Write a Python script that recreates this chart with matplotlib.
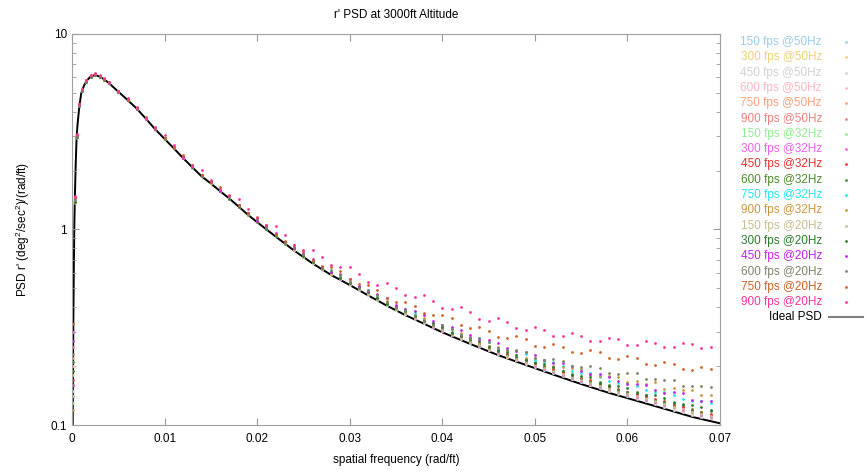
import numpy as np
import matplotlib
matplotlib.use('Agg')
import matplotlib.pyplot as plt
from matplotlib.lines import Line2D

plt.rcParams['font.family'] = ['Liberation Sans', 'DejaVu Sans']
plt.rcParams['mathtext.fontset'] = 'custom'
plt.rcParams['mathtext.rm'] = 'Liberation Sans'
plt.rcParams['mathtext.it'] = 'Liberation Sans'

# spatial frequency (rad/ft) of the sampled points
freq = [0.0001, 0.0003, 0.0005, 0.0008, 0.0011, 0.0015, 0.002, 0.0025, 0.003, 0.0035, 0.004,
        0.005, 0.007, 0.009, 0.011, 0.013, 0.015, 0.017, 0.019, 0.021, 0.023,
        0.025, 0.027, 0.029, 0.031, 0.033, 0.035, 0.037, 0.039, 0.041, 0.043,
        0.045, 0.047, 0.049, 0.051, 0.053, 0.055, 0.057, 0.059, 0.061, 0.063,
        0.065, 0.067, 0.069]
freq_mid = [0.006, 0.008, 0.010, 0.012, 0.014, 0.016, 0.018, 0.020, 0.022, 0.024,
            0.026, 0.028, 0.030, 0.032, 0.034, 0.036, 0.038, 0.040, 0.042, 0.044,
            0.046, 0.048, 0.050, 0.052, 0.054, 0.056, 0.058, 0.060, 0.062, 0.064,
            0.066, 0.068]

psd_150_50 = [0.14, 1.42, 2.95, 4.35, 5.1, 5.75, 6.0, 6.2, 6.08, 5.82, 5.62,
              5.1, 4.13, 3.27, 2.61, 2.07, 1.73, 1.45, 1.2, 1.0, 0.845, 0.725, 0.624, 0.56, 0.492, 0.438, 0.388,
              0.351, 0.316, 0.287, 0.264, 0.242, 0.222, 0.207, 0.192, 0.178, 0.166, 0.154, 0.145, 0.137, 0.128,
              0.12, 0.113, 0.108]
psd_300_50 = [0.18, 1.38, 3.0, 4.28, 5.18, 5.68, 6.08, 6.15, 6.02, 5.88, 5.58,
              5.05, 4.17, 3.24, 2.62, 2.09, 1.72, 1.45, 1.2, 1.01, 0.846, 0.724, 0.626, 0.558, 0.494, 0.437, 0.39,
              0.352, 0.317, 0.289, 0.265, 0.243, 0.224, 0.208, 0.193, 0.18, 0.167, 0.156, 0.146, 0.138, 0.129,
              0.122, 0.114, 0.109]
psd_450_50 = [0.15, 1.41, 2.97, 4.31, 5.13, 5.72, 6.06, 6.18, 6.04, 5.84, 5.61,
              5.08, 4.14, 3.26, 2.6, 2.08, 1.73, 1.44, 1.19, 1.0, 0.842, 0.723, 0.623, 0.557, 0.491, 0.436, 0.387,
              0.35, 0.316, 0.287, 0.263, 0.241, 0.222, 0.206, 0.191, 0.178, 0.165, 0.154, 0.144, 0.136, 0.128,
              0.12, 0.113, 0.108]
psd_600_50 = [0.2, 1.43, 3.02, 4.33, 5.16, 5.7, 6.07, 6.22, 6.05, 5.86, 5.63,
              5.1, 4.16, 3.27, 2.61, 2.09, 1.73, 1.45, 1.2, 1.01, 0.848, 0.727, 0.627, 0.56, 0.494, 0.44, 0.39,
              0.352, 0.318, 0.289, 0.265, 0.243, 0.224, 0.208, 0.193, 0.18, 0.167, 0.156, 0.146, 0.138, 0.13,
              0.122, 0.115, 0.109]
psd_750_50 = [0.22, 1.37, 2.99, 4.29, 5.14, 5.74, 6.03, 6.19, 6.09, 5.87, 5.6,
              5.09, 4.18, 3.26, 2.63, 2.1, 1.74, 1.46, 1.21, 1.01, 0.85, 0.728, 0.628, 0.562, 0.496, 0.441, 0.392,
              0.354, 0.32, 0.291, 0.267, 0.245, 0.226, 0.21, 0.195, 0.182, 0.169, 0.158, 0.148, 0.139, 0.131,
              0.123, 0.116, 0.11]
psd_900_50 = [0.25, 1.44, 3.03, 4.34, 5.17, 5.76, 6.1, 6.21, 6.07, 5.89, 5.64,
              5.11, 4.18, 3.28, 2.63, 2.1, 1.75, 1.46, 1.21, 1.02, 0.855, 0.733, 0.633, 0.566, 0.5, 0.445, 0.396,
              0.358, 0.324, 0.295, 0.27, 0.248, 0.23, 0.213, 0.198, 0.185, 0.172, 0.161, 0.151, 0.142, 0.134,
              0.126, 0.118, 0.113]
psd_150_32 = [0.13, 1.39, 2.96, 4.3, 5.15, 5.71, 6.04, 6.16, 6.06, 5.85, 5.59,
              5.08, 4.16, 3.25, 2.62, 2.09, 1.73, 1.45, 1.2, 1.01, 0.847, 0.726, 0.626, 0.56, 0.495, 0.44, 0.391,
              0.353, 0.319, 0.29, 0.266, 0.244, 0.225, 0.209, 0.195, 0.181, 0.168, 0.158, 0.147, 0.139, 0.131,
              0.123, 0.116, 0.11]
psd_300_32 = [0.3, 1.45, 3.01, 4.36, 5.2, 5.78, 6.12, 6.25, 6.1, 5.9, 5.65,
              5.12, 4.19, 3.28, 2.62, 2.1, 1.74, 1.46, 1.21, 1.01, 0.85, 0.728, 0.627, 0.561, 0.495, 0.44, 0.391,
              0.352, 0.319, 0.29, 0.266, 0.244, 0.225, 0.209, 0.194, 0.181, 0.168, 0.157, 0.147, 0.139, 0.131,
              0.123, 0.116, 0.11]
psd_450_32 = [0.17, 1.4, 2.99, 4.32, 5.17, 5.73, 6.09, 6.2, 6.08, 5.87, 5.62,
              5.09, 4.17, 3.27, 2.63, 2.1, 1.74, 1.46, 1.21, 1.02, 0.856, 0.735, 0.634, 0.568, 0.502, 0.447, 0.398,
              0.36, 0.326, 0.296, 0.272, 0.25, 0.231, 0.214, 0.2, 0.187, 0.174, 0.163, 0.152, 0.144, 0.136,
              0.127, 0.12, 0.114]
psd_600_32 = [0.21, 1.42, 3.0, 4.33, 5.16, 5.72, 6.07, 6.18, 6.06, 5.86, 5.62,
              5.09, 4.14, 3.27, 2.6, 2.1, 1.72, 1.46, 1.19, 1.02, 0.845, 0.736, 0.628, 0.57, 0.497, 0.45, 0.394,
              0.362, 0.322, 0.299, 0.27, 0.253, 0.229, 0.218, 0.198, 0.19, 0.172, 0.165, 0.151, 0.147, 0.135,
              0.131, 0.121, 0.118]
psd_750_32 = [0.16, 1.41, 2.98, 4.31, 5.16, 5.73, 6.08, 6.19, 6.07, 5.86, 5.61,
              5.1, 4.15, 3.27, 2.61, 2.11, 1.74, 1.47, 1.21, 1.03, 0.858, 0.745, 0.64, 0.582, 0.509, 0.46, 0.405,
              0.373, 0.333, 0.31, 0.281, 0.265, 0.241, 0.23, 0.21, 0.201, 0.185, 0.177, 0.164, 0.159, 0.148,
              0.143, 0.133, 0.13]
psd_900_32 = [0.12, 1.38, 2.97, 4.31, 5.15, 5.72, 6.06, 6.2, 6.06, 5.86, 5.62,
              5.07, 4.19, 3.26, 2.64, 2.09, 1.75, 1.45, 1.22, 1.0, 0.86, 0.73, 0.64, 0.566, 0.509, 0.446, 0.404,
              0.357, 0.33, 0.297, 0.28, 0.253, 0.241, 0.221, 0.214, 0.197, 0.193, 0.179, 0.177, 0.168, 0.165,
              0.154, 0.151, 0.143]
psd_150_20 = [0.14, 1.4, 2.99, 4.3, 5.15, 5.7, 6.06, 6.18, 6.05, 5.85, 5.61,
              5.08, 4.15, 3.26, 2.61, 2.09, 1.73, 1.45, 1.2, 1.01, 0.848, 0.727, 0.627, 0.562, 0.496, 0.441, 0.392,
              0.354, 0.32, 0.291, 0.267, 0.245, 0.226, 0.21, 0.195, 0.182, 0.169, 0.158, 0.148, 0.14, 0.132,
              0.124, 0.117, 0.111]
psd_300_20 = [0.19, 1.39, 2.97, 4.29, 5.14, 5.69, 6.05, 6.17, 6.04, 5.84, 5.6,
              5.06, 4.17, 3.25, 2.62, 2.08, 1.74, 1.44, 1.21, 1.0, 0.86, 0.73, 0.638, 0.565, 0.507, 0.445, 0.403,
              0.359, 0.331, 0.297, 0.278, 0.251, 0.236, 0.216, 0.205, 0.188, 0.179, 0.164, 0.158, 0.146, 0.142,
              0.13, 0.126, 0.119]
psd_450_20 = [0.27, 1.43, 3.02, 4.34, 5.18, 5.75, 6.1, 6.22, 6.09, 5.88, 5.64,
              5.1, 4.15, 3.28, 2.62, 2.12, 1.74, 1.48, 1.21, 1.04, 0.862, 0.755, 0.645, 0.59, 0.513, 0.468, 0.41,
              0.382, 0.34, 0.318, 0.287, 0.272, 0.247, 0.236, 0.215, 0.207, 0.188, 0.182, 0.167, 0.163, 0.151,
              0.147, 0.135, 0.133]
psd_600_20 = [0.23, 1.44, 3.01, 4.35, 5.19, 5.76, 6.11, 6.24, 6.08, 5.89, 5.66,
              5.12, 4.16, 3.3, 2.62, 2.13, 1.74, 1.48, 1.2, 1.03, 0.856, 0.748, 0.636, 0.583, 0.505, 0.463, 0.396,
              0.367, 0.326, 0.309, 0.277, 0.266, 0.242, 0.235, 0.216, 0.212, 0.197, 0.195, 0.183, 0.184, 0.171,
              0.17, 0.158, 0.156]
psd_750_20 = [0.33, 1.46, 3.04, 4.37, 5.21, 5.79, 6.14, 6.26, 6.11, 5.91, 5.67,
              5.13, 4.16, 3.31, 2.62, 2.14, 1.75, 1.5, 1.22, 1.06, 0.87, 0.775, 0.652, 0.612, 0.528, 0.49, 0.428,
              0.408, 0.364, 0.352, 0.315, 0.304, 0.277, 0.274, 0.251, 0.25, 0.233, 0.235, 0.218, 0.22, 0.203,
              0.204, 0.191, 0.193]
psd_900_20 = [0.16, 1.48, 3.07, 4.4, 5.25, 5.82, 6.18, 6.3, 6.14, 5.93, 5.7,
              5.14, 4.23, 3.33, 2.69, 2.12, 1.8, 1.48, 1.28, 1.05, 0.94, 0.79, 0.72, 0.64, 0.595, 0.52, 0.5,
              0.45, 0.43, 0.39, 0.38, 0.34, 0.336, 0.305, 0.306, 0.285, 0.285, 0.268, 0.274, 0.258, 0.263,
              0.252, 0.259, 0.251]

# in-between samples (freq_mid)
mid_150_50 = [4.62, 3.67, 2.93, 2.33, 1.88, 1.57, 1.32, 1.1, 0.925, 0.786, 0.673, 0.59, 0.524, 0.465, 0.412, 0.37,
              0.333, 0.302, 0.276, 0.253, 0.231, 0.215, 0.198, 0.184, 0.171, 0.16, 0.149, 0.14, 0.132, 0.124, 0.117, 0.11]
mid_300_50 = [4.58, 3.7, 2.92, 2.34, 1.87, 1.58, 1.31, 1.1, 0.926, 0.784, 0.676, 0.589, 0.526, 0.466, 0.414, 0.37,
              0.336, 0.303, 0.277, 0.254, 0.233, 0.216, 0.2, 0.186, 0.173, 0.161, 0.151, 0.142, 0.133, 0.126, 0.118, 0.111]
mid_450_50 = [4.61, 3.69, 2.9, 2.33, 1.87, 1.57, 1.31, 1.09, 0.923, 0.784, 0.672, 0.589, 0.523, 0.464, 0.411, 0.369,
              0.334, 0.301, 0.276, 0.252, 0.232, 0.214, 0.198, 0.184, 0.171, 0.16, 0.149, 0.14, 0.132, 0.124, 0.117, 0.11]
mid_600_50 = [4.62, 3.69, 2.93, 2.33, 1.88, 1.58, 1.32, 1.1, 0.927, 0.787, 0.675, 0.591, 0.526, 0.466, 0.414, 0.371,
              0.335, 0.303, 0.277, 0.254, 0.233, 0.216, 0.2, 0.186, 0.173, 0.162, 0.151, 0.142, 0.134, 0.126, 0.119, 0.112]
mid_750_50 = [4.6, 3.7, 2.92, 2.34, 1.88, 1.58, 1.32, 1.1, 0.929, 0.788, 0.678, 0.592, 0.528, 0.468, 0.416, 0.373,
              0.337, 0.305, 0.279, 0.256, 0.235, 0.218, 0.202, 0.188, 0.175, 0.163, 0.152, 0.143, 0.135, 0.127, 0.12, 0.113]
mid_900_50 = [4.63, 3.71, 2.94, 2.35, 1.89, 1.59, 1.33, 1.11, 0.932, 0.792, 0.682, 0.597, 0.532, 0.473, 0.421, 0.378,
              0.342, 0.31, 0.284, 0.261, 0.24, 0.223, 0.207, 0.193, 0.18, 0.168, 0.157, 0.147, 0.139, 0.131, 0.124, 0.116]
mid_150_32 = [4.61, 3.68, 2.92, 2.33, 1.88, 1.58, 1.32, 1.1, 0.928, 0.787, 0.677, 0.591, 0.527, 0.467, 0.415, 0.372,
              0.336, 0.304, 0.278, 0.255, 0.234, 0.217, 0.201, 0.187, 0.174, 0.163, 0.152, 0.143, 0.135, 0.127, 0.12, 0.113]
mid_300_32 = [4.64, 3.72, 2.94, 2.34, 1.89, 1.58, 1.32, 1.1, 0.929, 0.787, 0.678, 0.591, 0.528, 0.467, 0.415, 0.372,
              0.337, 0.304, 0.278, 0.255, 0.234, 0.217, 0.201, 0.187, 0.174, 0.163, 0.152, 0.143, 0.135, 0.127, 0.12, 0.113]
mid_450_32 = [4.62, 3.69, 2.93, 2.34, 1.88, 1.58, 1.32, 1.1, 0.933, 0.793, 0.684, 0.598, 0.534, 0.475, 0.422, 0.379,
              0.344, 0.312, 0.286, 0.262, 0.242, 0.224, 0.208, 0.193, 0.18, 0.169, 0.158, 0.148, 0.14, 0.132, 0.124, 0.117]
mid_600_32 = [4.63, 3.67, 2.94, 2.32, 1.89, 1.57, 1.33, 1.09, 0.938, 0.785, 0.688, 0.59, 0.537, 0.467, 0.426, 0.372,
              0.347, 0.306, 0.288, 0.257, 0.244, 0.22, 0.21, 0.19, 0.183, 0.166, 0.161, 0.147, 0.143, 0.131, 0.128, 0.117]
mid_750_32 = [4.59, 3.71, 2.91, 2.35, 1.88, 1.6, 1.32, 1.12, 0.935, 0.81, 0.686, 0.614, 0.538, 0.49, 0.427, 0.394,
              0.349, 0.326, 0.292, 0.278, 0.249, 0.239, 0.216, 0.209, 0.189, 0.184, 0.168, 0.164, 0.151, 0.148, 0.136, 0.133]
mid_900_32 = [4.64, 3.68, 2.95, 2.33, 1.9, 1.58, 1.34, 1.1, 0.942, 0.789, 0.691, 0.594, 0.542, 0.471, 0.43, 0.378,
              0.352, 0.312, 0.294, 0.264, 0.252, 0.229, 0.22, 0.201, 0.196, 0.18, 0.178, 0.165, 0.163, 0.152, 0.151, 0.142]
mid_150_20 = [4.61, 3.69, 2.92, 2.33, 1.88, 1.58, 1.32, 1.1, 0.929, 0.788, 0.678, 0.592, 0.528, 0.468, 0.416, 0.373,
              0.337, 0.305, 0.279, 0.256, 0.235, 0.218, 0.202, 0.188, 0.175, 0.164, 0.153, 0.144, 0.136, 0.128, 0.121, 0.114]
mid_300_20 = [4.59, 3.7, 2.91, 2.34, 1.87, 1.59, 1.31, 1.11, 0.928, 0.8, 0.679, 0.604, 0.53, 0.479, 0.418, 0.384,
              0.341, 0.317, 0.284, 0.268, 0.24, 0.229, 0.207, 0.199, 0.181, 0.175, 0.159, 0.155, 0.142, 0.138, 0.127, 0.124]
mid_450_20 = [4.62, 3.68, 2.94, 2.33, 1.9, 1.58, 1.34, 1.1, 0.955, 0.805, 0.707, 0.608, 0.557, 0.485, 0.444, 0.392,
              0.366, 0.325, 0.307, 0.276, 0.263, 0.238, 0.229, 0.208, 0.2, 0.183, 0.177, 0.162, 0.16, 0.146, 0.145, 0.132]
mid_600_20 = [4.61, 3.74, 2.93, 2.38, 1.89, 1.62, 1.33, 1.13, 0.938, 0.814, 0.688, 0.618, 0.539, 0.492, 0.428, 0.389,
              0.341, 0.323, 0.288, 0.277, 0.249, 0.242, 0.221, 0.218, 0.2, 0.2, 0.185, 0.185, 0.171, 0.17, 0.158, 0.159]
mid_750_20 = [4.62, 3.76, 2.94, 2.4, 1.9, 1.65, 1.34, 1.16, 0.95, 0.838, 0.698, 0.645, 0.555, 0.519, 0.447, 0.428,
              0.376, 0.367, 0.324, 0.318, 0.283, 0.284, 0.255, 0.259, 0.236, 0.241, 0.22, 0.225, 0.206, 0.21, 0.193, 0.197]
mid_900_20 = [4.72, 3.72, 3.06, 2.36, 2.01, 1.61, 1.44, 1.15, 1.04, 0.83, 0.79, 0.66, 0.64, 0.54, 0.53, 0.46,
              0.46, 0.395, 0.4, 0.35, 0.352, 0.312, 0.316, 0.286, 0.295, 0.27, 0.279, 0.258, 0.268, 0.25, 0.263, 0.248]

# ideal (analytic) PSD curve
ideal_freq = [0.00008, 0.00012, 0.00016, 0.0002, 0.00025, 0.0003, 0.0004, 0.0005, 0.0006, 0.0008,
              0.001, 0.0013, 0.0016, 0.002, 0.0025, 0.003, 0.0035, 0.004, 0.005, 0.006,
              0.007, 0.008, 0.009, 0.01, 0.011, 0.012, 0.013, 0.014, 0.015, 0.016,
              0.017, 0.018, 0.019, 0.02, 0.022, 0.024, 0.026, 0.028, 0.03, 0.032,
              0.034, 0.036, 0.038, 0.04, 0.043, 0.046, 0.049, 0.052, 0.055, 0.058,
              0.061, 0.064, 0.067, 0.07]
ideal_psd = [0.1, 0.23, 0.41, 0.65, 1.03, 1.4, 2.15, 2.98, 3.45, 4.3,
             4.98, 5.45, 5.78, 6.05, 6.17, 6.05, 5.85, 5.6, 5.07, 4.6,
             4.15, 3.68, 3.25, 2.91, 2.6, 2.32, 2.08, 1.87, 1.72, 1.57,
             1.44, 1.31, 1.19, 1.09, 0.92, 0.78, 0.67, 0.585, 0.52, 0.46,
             0.408, 0.365, 0.33, 0.298, 0.26, 0.228, 0.203, 0.181, 0.162, 0.146,
             0.133, 0.121, 0.11, 0.102]

labels = ['150 fps @50Hz', '300 fps @50Hz', '450 fps @50Hz', '600 fps @50Hz', '750 fps @50Hz', '900 fps @50Hz',
          '150 fps @32Hz', '300 fps @32Hz', '450 fps @32Hz', '600 fps @32Hz', '750 fps @32Hz', '900 fps @32Hz',
          '150 fps @20Hz', '300 fps @20Hz', '450 fps @20Hz', '600 fps @20Hz', '750 fps @20Hz', '900 fps @20Hz']
colors = ['#9ccbe6', '#eed17a', '#d2d2d2', '#ffb6c1', '#ffa07a', '#f08080',
          '#90ee90', '#f060f0', '#f03030', '#4b8b2b', '#1ee6f0', '#c8963c',
          '#c6bd90', '#2a7a2a', '#c31fef', '#7a8566', '#cf5f25', '#ff3399']
series = [psd_150_50, psd_300_50, psd_450_50, psd_600_50, psd_750_50, psd_900_50,
          psd_150_32, psd_300_32, psd_450_32, psd_600_32, psd_750_32, psd_900_32,
          psd_150_20, psd_300_20, psd_450_20, psd_600_20, psd_750_20, psd_900_20]
series_mid = [mid_150_50, mid_300_50, mid_450_50, mid_600_50, mid_750_50, mid_900_50,
              mid_150_32, mid_300_32, mid_450_32, mid_600_32, mid_750_32, mid_900_32,
              mid_150_20, mid_300_20, mid_450_20, mid_600_20, mid_750_20, mid_900_20]

fig = plt.figure(figsize=(8.67, 4.73), dpi=100)
ax = fig.add_axes([72/867, 1-425/473, 648/867, 391/473])

ax.plot(ideal_freq, ideal_psd, color='black', lw=1.4, zorder=1)
for vals, mids, c in zip(series, series_mid, colors):
    ax.plot(freq + freq_mid, vals + mids, ls='none', marker='o', ms=2.0, mew=0, color=c, zorder=2)

ax.set_yscale('log')
ax.set_xlim(0, 0.07)
ax.set_ylim(0.1, 10)
ax.set_xticks([0, 0.01, 0.02, 0.03, 0.04, 0.05, 0.06, 0.07])
ax.set_xticklabels(['0', '0.01', '0.02', '0.03', '0.04', '0.05', '0.06', '0.07'])
ax.set_yticks([0.1, 1, 10])
ax.set_yticklabels(['0.1', '1', '10'])
ax.tick_params(which='both', direction='in', top=True, right=True, colors='#999999',
               labelcolor='black', labelsize=8.5)
ax.tick_params(which='major', length=5)
ax.tick_params(which='minor', length=3)
ax.tick_params(axis='x', pad=6)
for sp in ax.spines.values():
    sp.set_color('#a0a0a0')

ax.set_title("r' PSD at 3000ft Altitude", fontsize=8.5, y=1.02)
ax.set_xlabel('spatial frequency (rad/ft)', fontsize=8.5)
ax.xaxis.set_label_coords(0.5, -0.075)
ax.set_ylabel("PSD r' (deg$^2$/sec$^2$)/(rad/ft)", fontsize=8.5)
ax.yaxis.set_label_coords(-0.062, 0.5)

# gnuplot-style key on the right
row0 = 42
step = 15.3
for i, (lab, c) in enumerate(zip(labels, colors)):
    yy = 1 - (row0 + i*step)/473
    fig.text(822/867, yy, lab, ha='right', va='center', color=c, fontsize=8.5)
    fig.add_artist(Line2D([846/867], [yy], marker='o', ms=2.0, mew=0, color=c,
                          transform=fig.transFigure))
yy = 1 - (row0 + 18*step)/473
fig.text(822/867, yy, 'Ideal PSD', ha='right', va='center', color='black', fontsize=8.5)
fig.add_artist(Line2D([829/867, 863/867], [yy, yy], color='#808080', lw=1.5,
                      transform=fig.transFigure))

fig.savefig('out.png', dpi=100)
